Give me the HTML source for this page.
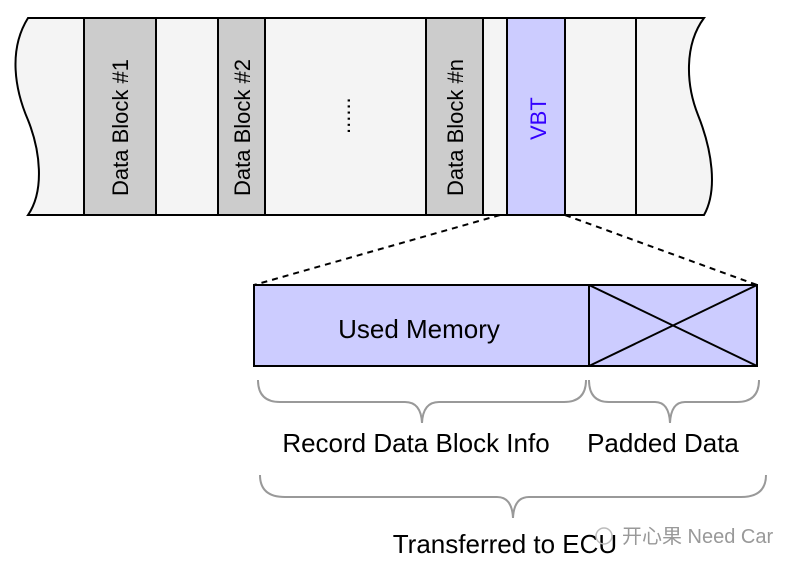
<!DOCTYPE html>
<html><head><meta charset="utf-8"><style>
html,body{margin:0;padding:0;background:#fff;}
svg{display:block;}
text{font-family:"Liberation Sans",Arial,sans-serif;}
</style></head><body>
<svg width="789" height="569" viewBox="0 0 789 569" xmlns="http://www.w3.org/2000/svg">
<path d="M28,18 L704,18 C684,45 686,85 698,115 C712,150 718,190 704,215 L28,215 C45,190 40,150 28,120 C15,90 8,50 28,18 Z" fill="#f4f4f4" stroke="#000" stroke-width="2"/>
<rect x="84" y="18" width="72" height="197" fill="#cccccc" stroke="#000" stroke-width="2"/>
<rect x="218" y="18" width="47" height="197" fill="#cccccc" stroke="#000" stroke-width="2"/>
<rect x="426" y="18" width="57" height="197" fill="#cccccc" stroke="#000" stroke-width="2"/>
<rect x="507" y="18" width="58" height="197" fill="#ccccff" stroke="#000" stroke-width="2"/>
<line x1="636" y1="18" x2="636" y2="215" stroke="#000" stroke-width="2"/>
<text transform="translate(128,196) rotate(-90)" font-size="22">Data Block #1</text>
<text transform="translate(250,196) rotate(-90)" font-size="22">Data Block #2</text>
<text transform="translate(463,196) rotate(-90)" font-size="22">Data Block #n</text>
<text transform="translate(546,140) rotate(-90)" font-size="22" fill="#3300ff">VBT</text>
<text transform="translate(350,134) rotate(-90)" font-size="22">......</text>
<line x1="500" y1="215" x2="254" y2="285" stroke="#000" stroke-width="2" stroke-dasharray="6,5"/>
<line x1="565" y1="215" x2="757" y2="285" stroke="#000" stroke-width="2" stroke-dasharray="6,5"/>
<rect x="254" y="285" width="503" height="81" fill="#ccccff" stroke="#000" stroke-width="2"/>
<line x1="589" y1="285" x2="589" y2="366" stroke="#000" stroke-width="2"/>
<line x1="589" y1="285" x2="757" y2="366" stroke="#000" stroke-width="2"/>
<line x1="589" y1="366" x2="757" y2="285" stroke="#000" stroke-width="2"/>
<text x="419" y="338" font-size="26" text-anchor="middle">Used Memory</text>
<g fill="none" stroke="#999" stroke-width="2">
<path d="M258,380 Q258,402 280,402 L405,402 Q421,402 422,423 Q423,402 439,402 L564,402 Q586,402 586,380"/>
<path d="M589,380 Q589,402 609,402 L655,402 Q669,402 670,423 Q671,402 685,402 L737,402 Q759,402 759,380"/>
<path d="M260,475 Q260,497 285,497 L497,497 Q512,497 513,518 Q514,497 529,497 L741,497 Q766,497 766,475"/>
</g>
<text x="416" y="452" font-size="26" text-anchor="middle">Record Data Block Info</text>
<text x="663" y="452" font-size="26" text-anchor="middle">Padded Data</text>
<text x="505" y="553" font-size="26" text-anchor="middle">Transferred to ECU</text>
<text x="622" y="543" font-size="20" fill="#999" font-family="'Liberation Sans','Noto Sans CJK SC',sans-serif">开心果 Need Car</text>
<circle cx="604" cy="536" r="8" fill="none" stroke="#bbb" stroke-width="1.5"/>
</svg>
</body></html>
